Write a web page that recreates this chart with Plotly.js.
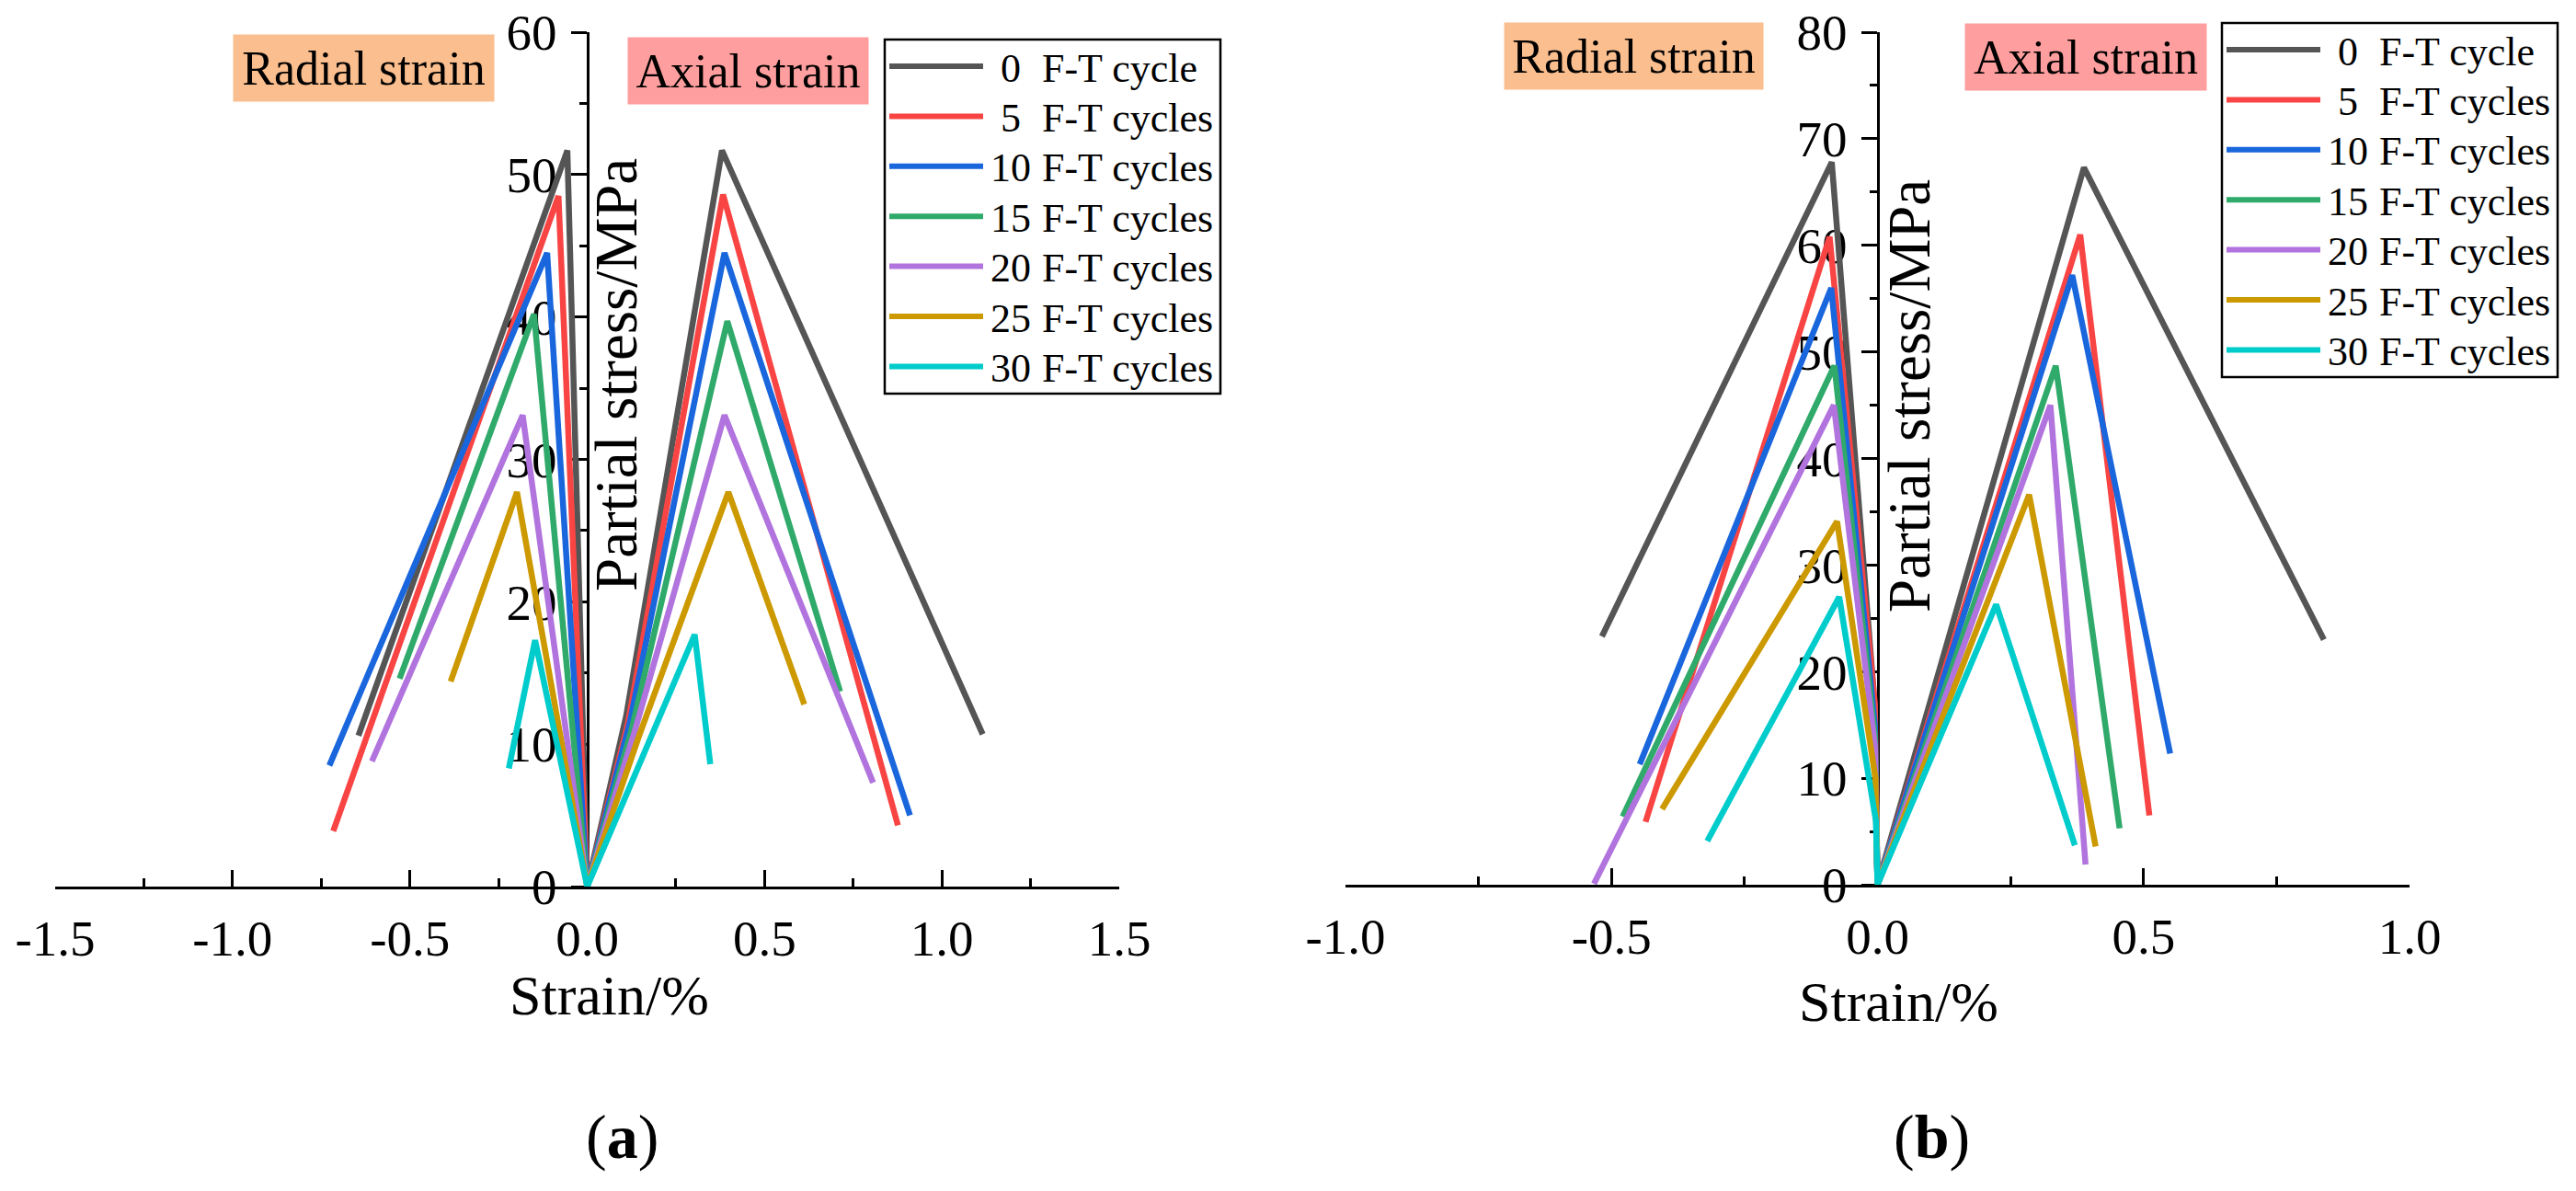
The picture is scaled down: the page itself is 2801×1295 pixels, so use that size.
<!DOCTYPE html>
<html>
<head>
<meta charset="utf-8">
<script src="https://cdn.plot.ly/plotly-3.0.1.min.js"></script>
<style>html,body{margin:0;padding:0;background:#fff;}#chart{width:2801px;height:1295px;}</style>
</head>
<body>
<div id="chart"></div>
<script>
// ---------- series definitions ----------
const cycleCounts = ['0', '5', '10', '15', '20', '25', '30'];
const cycleUnits  = ['F-T cycle', 'F-T cycles', 'F-T cycles', 'F-T cycles', 'F-T cycles', 'F-T cycles', 'F-T cycles'];
const seriesColors = ['#555555', '#F94444', '#1A66DD', '#2FAA6A', '#B173DD', '#CC9900', '#00CCCC'];
const originStrain = 0, originStress = 0;

// ---------- panel (a) : strain (%) / stress (MPa) ----------
const aRadialEndX  = [-0.645, -0.716, -0.727, -0.529, -0.607, -0.385, -0.221];
const aRadialEndY  = [10.6, 3.9, 8.5, 14.6, 8.8, 14.4, 8.3];
const aRadialPeakX = [-0.056, -0.081, -0.113, -0.150, -0.182, -0.198, -0.147];
const aRadialPeakY = [51.7, 48.5, 44.5, 40.2, 33.1, 27.7, 17.3];
const aAxialKneeX  = [0.110, 0.115, 0.120, 0.125, 0.135, 0.145, 0.145];
const aAxialKneeY  = [12.0, 11.5, 11.5, 11.0, 11.0, 10.5, 8.5];
const aAxialPeakX  = [0.380, 0.383, 0.387, 0.395, 0.387, 0.398, 0.303];
const aAxialPeakY  = [51.7, 48.6, 44.5, 39.7, 33.1, 27.7, 17.7];
const aAxialEndX   = [1.115, 0.876, 0.910, 0.713, 0.806, 0.612, 0.347];
const aAxialEndY   = [10.7, 4.3, 5.0, 13.7, 7.3, 12.8, 8.6];

// ---------- panel (b) ----------
const bRadialEndX  = [-0.518, -0.436, -0.447, -0.479, -0.533, -0.405, -0.320];
const bRadialEndY  = [23.3, 5.9, 11.3, 6.4, 0.1, 7.1, 4.1];
const bRadialPeakX = [-0.086, -0.090, -0.087, -0.081, -0.082, -0.076, -0.072];
const bRadialPeakY = [67.8, 60.8, 56.0, 48.7, 45.0, 34.1, 27.0];
const bRadialKneeX = [-0.007, -0.005, -0.005, -0.005, -0.005, -0.004, -0.003];
const bRadialKneeY = [18, 17, 15, 14, 13, 10, 6];
const bAxialPeakX  = [0.388, 0.381, 0.366, 0.335, 0.325, 0.285, 0.223];
const bAxialPeakY  = [67.3, 61.0, 57.2, 48.7, 45.0, 36.6, 26.3];
const bAxialEndX   = [0.839, 0.511, 0.550, 0.455, 0.391, 0.410, 0.371];
const bAxialEndY   = [23.0, 6.5, 12.3, 5.3, 1.9, 3.6, 3.7];

// ---------- tick labels ----------
const aXTicks = [-1.5, -1.0, -0.5, 0, 0.5, 1.0, 1.5];
const aYTicks = [0, 10, 20, 30, 40, 50, 60];
const bXTicks = [-1.0, -0.5, 0, 0.5, 1.0];
const bYTicks = [0, 10, 20, 30, 40, 50, 60, 70, 80];

// ---------- text ----------
const xTitleText = 'Strain/%';
const yTitleText = 'Partial stress/MPa';
const radialText = 'Radial strain';
const axialText = 'Axial strain';

// ---------- helpers ----------
const W = 2801, H = 1295;
const FONT = 'Liberation Serif, Times New Roman, serif';
const px = v => v / W;
const py = v => 1 - v / H;
const mids = arr => arr.slice(1).map((v, i) => (v + arr[i]) / 2);

const traces = [];
cycleCounts.forEach((c, i) => {
  traces.push({
    type: 'scatter', mode: 'lines', xaxis: 'x', yaxis: 'y', showlegend: false, hoverinfo: 'skip',
    name: c + ' ' + cycleUnits[i],
    x: [aRadialEndX[i], aRadialPeakX[i], originStrain, aAxialKneeX[i], aAxialPeakX[i], aAxialEndX[i]],
    y: [aRadialEndY[i], aRadialPeakY[i], originStress, aAxialKneeY[i], aAxialPeakY[i], aAxialEndY[i]],
    line: {color: seriesColors[i], width: 6.5}
  });
});
cycleCounts.forEach((c, i) => {
  traces.push({
    type: 'scatter', mode: 'lines', xaxis: 'x2', yaxis: 'y2', showlegend: false, hoverinfo: 'skip',
    name: c + ' ' + cycleUnits[i],
    x: [bRadialEndX[i], bRadialPeakX[i], bRadialKneeX[i], originStrain, bAxialPeakX[i], bAxialEndX[i]],
    y: [bRadialEndY[i], bRadialPeakY[i], bRadialKneeY[i], originStress, bAxialPeakY[i], bAxialEndY[i]],
    line: {color: seriesColors[i], width: 6.5}
  });
});

function xAxis(dom, ticks, anchor) {
  return {
    domain: dom, range: [ticks[0], ticks[ticks.length - 1]], anchor: anchor,
    showline: true, linecolor: '#000', linewidth: 3, mirror: false,
    showgrid: false, zeroline: false, layer: 'below traces',
    ticks: 'inside', ticklen: 18, tickwidth: 3, tickcolor: '#000',
    tickmode: 'array', tickvals: ticks, ticktext: ticks.map(v => v.toFixed(1)),
    tickfont: {family: FONT, size: 55, color: '#000'}, ticklabelstandoff: 6,
    minor: {ticks: 'inside', ticklen: 9, tickwidth: 3, tickcolor: '#000', tickmode: 'array', tickvals: mids(ticks), showgrid: false},
    fixedrange: true
  };
}
function yAxis(dom, ticks, pos) {
  return {
    domain: dom, range: [ticks[0], ticks[ticks.length - 1]], anchor: 'free', position: pos, side: 'left',
    showline: true, linecolor: '#000', linewidth: 3,
    showgrid: false, zeroline: false, layer: 'below traces',
    ticks: 'outside', ticklen: 17, tickwidth: 3, tickcolor: '#000',
    tickmode: 'array', tickvals: ticks, ticktext: ticks.map(v => String(v)),
    tickfont: {family: FONT, size: 55, color: '#000'}, ticklabelstandoff: 4,
    minor: {ticks: 'outside', ticklen: 8, tickwidth: 3, tickcolor: '#000', tickmode: 'array', tickvals: mids(ticks), showgrid: false},
    fixedrange: true
  };
}

// panel geometry (pixels)
const panels = [
  {xl: 60, xr: 1217, yt: 35, yb: 964, legX: 962, legY: 43, radial: [396, 74, 273], axial: [813, 77, 251],
   yTitle: [670, 408], xTitle: [662, 1082], tag: [676, 1236], tagText: '(<b>a</b>)'},
  {xl: 1463, xr: 2620, yt: 35, yb: 962, legX: 2416, legY: 25, radial: [1776, 61, 271], axial: [2268, 62, 252],
   yTitle: [2076, 431], xTitle: [2064, 1089], tag: [2100, 1236], tagText: '(<b>b</b>)'}
];

const annotations = [];
const shapes = [];
panels.forEach(p => {
  const common = {xref: 'paper', yref: 'paper', showarrow: false};
  annotations.push(Object.assign({}, common, {text: radialText, x: px(p.radial[0]), y: py(p.radial[1]), xanchor: 'center', yanchor: 'middle',
    bgcolor: '#FBBE8E', borderpad: 5, width: p.radial[2], height: 62, font: {family: FONT, size: 52, color: '#000'}}));
  annotations.push(Object.assign({}, common, {text: axialText, x: px(p.axial[0]), y: py(p.axial[1]), xanchor: 'center', yanchor: 'middle',
    bgcolor: '#FF9E9E', borderpad: 5, width: p.axial[2], height: 62, font: {family: FONT, size: 52, color: '#000'}}));
  annotations.push(Object.assign({}, common, {text: yTitleText, textangle: -90, x: px(p.yTitle[0]), y: py(p.yTitle[1]),
    xanchor: 'center', yanchor: 'middle', font: {family: FONT, size: 65, color: '#000'}}));
  annotations.push(Object.assign({}, common, {text: xTitleText, x: px(p.xTitle[0]), y: py(p.xTitle[1]),
    xanchor: 'center', yanchor: 'middle', font: {family: FONT, size: 62, color: '#000'}}));
  annotations.push(Object.assign({}, common, {text: p.tagText, x: px(p.tag[0]), y: py(p.tag[1]),
    xanchor: 'center', yanchor: 'middle', font: {family: FONT, size: 68, color: '#000'}}));
  // legend
  shapes.push({type: 'rect', xref: 'paper', yref: 'paper', x0: px(p.legX), x1: px(p.legX + 365), y0: py(p.legY), y1: py(p.legY + 385),
    line: {color: '#000', width: 2.5}, fillcolor: 'rgba(255,255,255,1)'});
  cycleCounts.forEach((c, i) => {
    const yy = p.legY + 29 + 54.4 * i;
    shapes.push({type: 'line', xref: 'paper', yref: 'paper', x0: px(p.legX + 5), x1: px(p.legX + 107), y0: py(yy), y1: py(yy),
      line: {color: seriesColors[i], width: 6}});
    annotations.push(Object.assign({}, common, {text: c, x: px(p.legX + 137), y: py(yy + 2), xanchor: 'center', yanchor: 'middle',
      font: {family: FONT, size: 44, color: '#000'}}));
    annotations.push(Object.assign({}, common, {text: cycleUnits[i], x: px(p.legX + 169), y: py(yy + 2), xanchor: 'left', yanchor: 'middle',
      font: {family: FONT, size: 44, color: '#000'}}));
  });
});

const layout = {
  width: W, height: H, margin: {l: 0, r: 0, t: 0, b: 0, pad: 0},
  paper_bgcolor: '#fff', plot_bgcolor: 'rgba(0,0,0,0)', showlegend: false,
  font: {family: FONT, color: '#000'},
  xaxis: xAxis([px(panels[0].xl), px(panels[0].xr)], aXTicks, 'y'),
  yaxis: yAxis([py(panels[0].yb), py(panels[0].yt)], aYTicks, px((panels[0].xl + panels[0].xr) / 2)),
  xaxis2: xAxis([px(panels[1].xl), px(panels[1].xr)], bXTicks, 'y2'),
  yaxis2: yAxis([py(panels[1].yb), py(panels[1].yt)], bYTicks, px((panels[1].xl + panels[1].xr) / 2)),
  annotations: annotations, shapes: shapes
};

Plotly.newPlot('chart', traces, layout, {staticPlot: true, displayModeBar: false});
</script>
</body>
</html>
